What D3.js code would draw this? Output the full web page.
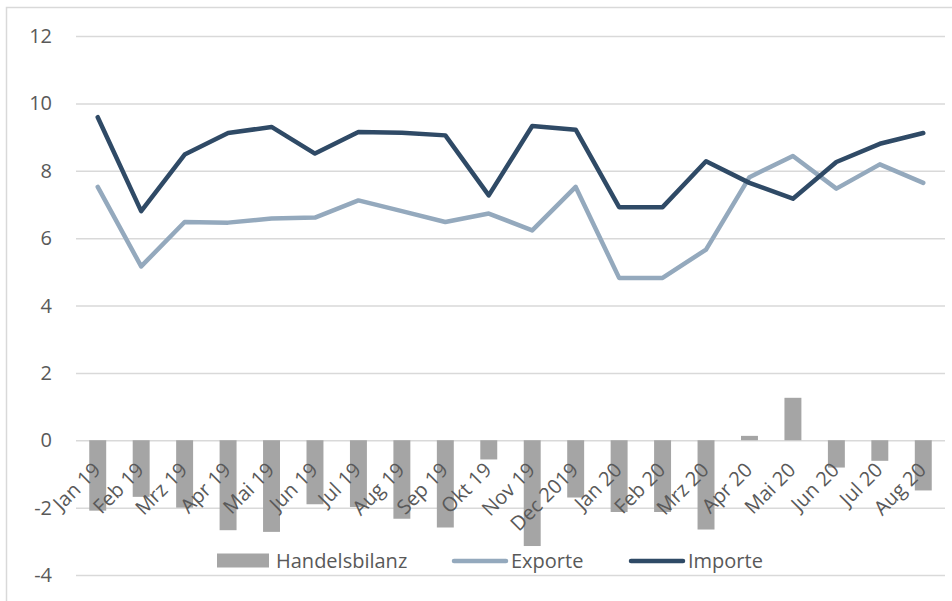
<!DOCTYPE html>
<html>
<head>
<meta charset="utf-8">
<script src="https://cdn.jsdelivr.net/npm/d3@7"></script>
<style>
  body { margin: 0; background: #fff; }
  text { font-family: "Open Sans", sans-serif; fill: #595959; }
</style>
</head>
<body>
<div class="chart"></div>
<script>
// Handelsbilanz chart

// DATA-------------------------
const months = ["Jan 19", "Feb 19", "Mrz 19", "Apr 19", "Mai 19", "Jun 19", "Jul 19", "Aug 19",
    "Sep 19", "Okt 19", "Nov 19", "Dec 2019", "Jan 20", "Feb 20", "Mrz 20", "Apr 20",
    "Mai 20", "Jun 20", "Jul 20", "Aug 20"];
const handelsbilanz = [-2.09, -1.68, -2.0, -2.67, -2.72, -1.9, -1.98, -2.33, -2.59, -0.57,
    -3.14, -1.7, -2.13, -2.13, -2.65, 0.13, 1.26, -0.81, -0.61, -1.49];
const exporte = [7.52, 5.16, 6.48, 6.46, 6.58, 6.61, 7.12, 6.8, 6.48, 6.73,
    6.23, 7.52, 4.82, 4.82, 5.66, 7.81, 8.44, 7.47, 8.19, 7.64];
const importe = [9.59, 6.8, 8.48, 9.12, 9.3, 8.51, 9.15, 9.13, 9.05, 7.27,
    9.33, 9.22, 6.92, 6.92, 8.28, 7.64, 7.17, 8.26, 8.8, 9.12];
const yTicks = [-4, -2, 0, 2, 4, 6, 8, 10, 12];

// CHART INIT-------------------------
const W = 952, H = 601;
const margin = {top: 36, right: 7, bottom: 26, left: 76};
const width = W - margin.left - margin.right;
const height = H - margin.top - margin.bottom;

const colors = {bar: "#a5a5a5", exp: "#94a9bd", imp: "#2f4a66", grid: "#d9d9d9"};

const root = d3.select(".chart")
    .append("svg")
    .attr("width", W)
    .attr("height", H);

// outer chart frame
root.append("rect")
    .attr("x", 6.5).attr("y", 7.5)
    .attr("width", W + 10).attr("height", H + 10)
    .attr("fill", "none")
    .attr("stroke", colors.grid)
    .attr("stroke-width", 1.5);

const svg = root.append("g")
    .attr("transform", `translate(${margin.left},${margin.top})`);

const xScale = d3.scaleBand()
    .domain(months)
    .range([0, width])
    .paddingInner(0.61)
    .paddingOuter(0.305);

const xPoint = d => xScale(d) + xScale.bandwidth() / 2;

const yScale = d3.scaleLinear()
    .domain([-4, 12])
    .range([height, 0]);

// gridlines
svg.append("g")
    .attr("class", "grid")
    .call(d3.axisLeft(yScale).tickValues(yTicks).tickSize(-width).tickFormat(""))
    .call(g => g.select(".domain").remove())
    .call(g => g.selectAll("line").attr("stroke", colors.grid).attr("stroke-width", 1.5));

// y tick labels
svg.append("g")
    .selectAll("text")
    .data(yTicks)
    .enter()
    .append("text")
    .attr("x", -24)
    .attr("y", d => yScale(d) + 7)
    .attr("text-anchor", "end")
    .attr("font-size", "20px")
    .text(d => d);

// bars
svg.selectAll("rect.bar")
    .data(months)
    .enter()
    .append("rect")
    .attr("class", "bar")
    .attr("x", d => xScale(d))
    .attr("width", xScale.bandwidth())
    .attr("y", (d, i) => yScale(Math.max(0, handelsbilanz[i])))
    .attr("height", (d, i) => Math.abs(yScale(handelsbilanz[i]) - yScale(0)))
    .attr("fill", colors.bar);

// lines
const line = d3.line()
    .x((d, i) => xPoint(months[i]))
    .y(d => yScale(d));

svg.append("path")
    .datum(exporte)
    .attr("d", line)
    .attr("fill", "none")
    .attr("stroke", colors.exp)
    .attr("stroke-width", 4.5)
    .attr("stroke-linejoin", "round")
    .attr("stroke-linecap", "round");

svg.append("path")
    .datum(importe)
    .attr("d", line)
    .attr("fill", "none")
    .attr("stroke", colors.imp)
    .attr("stroke-width", 4.5)
    .attr("stroke-linejoin", "round")
    .attr("stroke-linecap", "round");

// x labels, rotated
svg.append("g")
    .selectAll("text")
    .data(months)
    .enter()
    .append("text")
    .attr("text-anchor", "end")
    .attr("font-size", "20px")
    .attr("transform", d => `translate(${xPoint(d) + 4},${yScale(0) + 31}) rotate(-45)`)
    .text(d => d);

// legend
const legend = root.append("g");

legend.append("rect")
    .attr("x", 217).attr("y", 553.5)
    .attr("width", 52).attr("height", 14)
    .attr("fill", colors.bar);
legend.append("text")
    .attr("x", 276).attr("y", 567.5)
    .attr("font-size", "20px")
    .text("Handelsbilanz");

legend.append("line")
    .attr("x1", 454).attr("x2", 506)
    .attr("y1", 561).attr("y2", 561)
    .attr("stroke", colors.exp).attr("stroke-width", 4.5)
    .attr("stroke-linecap", "round");
legend.append("text")
    .attr("x", 511).attr("y", 567.5)
    .attr("font-size", "20px")
    .text("Exporte");

legend.append("line")
    .attr("x1", 631).attr("x2", 683)
    .attr("y1", 561).attr("y2", 561)
    .attr("stroke", colors.imp).attr("stroke-width", 4.5)
    .attr("stroke-linecap", "round");
legend.append("text")
    .attr("x", 688).attr("y", 567.5)
    .attr("font-size", "20px")
    .text("Importe");
</script>
</body>
</html>
